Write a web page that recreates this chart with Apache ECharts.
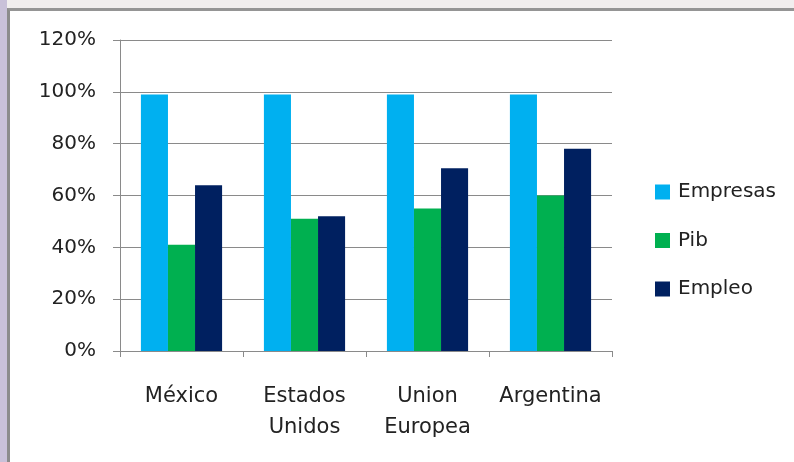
<!DOCTYPE html>
<html><head><meta charset="utf-8">
<script src="https://cdn.jsdelivr.net/npm/echarts@6/dist/echarts.min.js"></script>
<style>
html,body{margin:0;padding:0;width:794px;height:462px;overflow:hidden;background:#f1eeee;}
#lav{position:absolute;left:0;top:0;width:7px;height:462px;background:#c9c1d9;}
#frame{position:absolute;left:7px;top:8px;width:787px;height:454px;border-left:3px solid #8c8c8c;border-top:3px solid #959595;background:#fff;box-sizing:border-box;}
#chart{position:absolute;left:0;top:0;width:794px;height:462px;}
</style></head>
<body>
<div id="lav"></div>
<div id="frame"></div>
<div id="chart"></div>
<script>
const categories = ['México', 'Estados\nUnidos', 'Union\nEuropea', 'Argentina'];
const empresas = [99, 99, 99, 99];
const pib = [41, 51, 55, 60];
const empleo = [64, 52, 70.5, 78];
const yTicks = [0, 20, 40, 60, 80, 100, 120];

const chart = echarts.init(document.getElementById('chart'), null, {renderer: 'canvas'});
const font = '"DejaVu Sans", sans-serif';
chart.setOption({
  backgroundColor: 'transparent',
  animation: false,
  grid: {left: 120, right: 182, top: 40, bottom: 111, containLabel: false},
  legend: {
    orient: 'vertical', left: 655, top: 182, padding: 0,
    itemWidth: 15, itemHeight: 15, itemGap: 28.5, icon: 'rect',
    textStyle: {fontSize: 20, lineHeight: 20, color: '#222', fontFamily: font, padding: [0, 0, 0, 3]},
    data: ['Empresas', 'Pib', 'Empleo']
  },
  xAxis: {
    type: 'category', data: categories,
    axisLine: {lineStyle: {color: '#8a8a8a', width: 1}},
    axisTick: {show: true, length: 6, lineStyle: {color: '#8a8a8a'}},
    axisLabel: {fontSize: 21, color: '#222', fontFamily: font, lineHeight: 31, margin: 30, interval: 0}
  },
  yAxis: {
    type: 'value', min: yTicks[0], max: yTicks[yTicks.length - 1], interval: 20,
    axisLine: {show: true, lineStyle: {color: '#8a8a8a', width: 1}},
    axisTick: {show: true, length: 7, lineStyle: {color: '#8a8a8a'}},
    splitLine: {lineStyle: {color: '#8a8a8a', width: 1}},
    axisLabel: {formatter: '{value}%', fontSize: 20, color: '#222', fontFamily: font, margin: 24}
  },
  series: [
    {name: 'Empresas', type: 'bar', data: empresas, itemStyle: {color: '#00b0f0'}, barGap: '0%', barCategoryGap: '34%'},
    {name: 'Pib', type: 'bar', data: pib, itemStyle: {color: '#00b050'}, barGap: '0%', barCategoryGap: '34%'},
    {name: 'Empleo', type: 'bar', data: empleo, itemStyle: {color: '#002060'}, barGap: '0%', barCategoryGap: '34%'}
  ]
});
</script>
</body></html>
